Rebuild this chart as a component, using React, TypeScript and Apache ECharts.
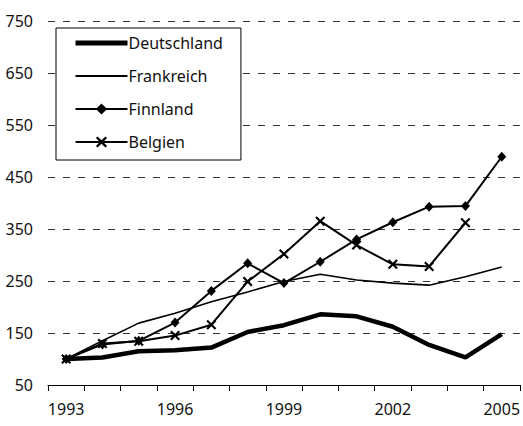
import React, { useEffect, useRef } from "react";
import * as echarts from "echarts";

const years = ["1993","1994","1995","1996","1997","1998","1999","2000","2001","2002","2003","2004","2005"];
const deutschland = [100, 103, 115, 117, 122, 152, 165, 186, 182, 162, 127, 103, 148];
const frankreich = [100, 135, 169, 188, 210, 229, 249, 263, 252, 246, 242, 258, 277];
const finnland = [100, 128, 135, 170, 231, 284, 246, 287, 330, 363, 393, 394, 489];
const belgien: (number | null)[] = [100, 130, 134, 145, 166, 249, 302, 365, 319, 282, 278, 362, null];

const X_SYMBOL = "path://M0,1.5 L1.5,0 L5,3.5 L8.5,0 L10,1.5 L6.5,5 L10,8.5 L8.5,10 L5,6.5 L1.5,10 L0,8.5 L3.5,5 Z";
const FONT = "Noto Sans";

export default function App() {
  const ref = useRef<HTMLDivElement>(null);
  useEffect(() => {
    if (!ref.current) return;
    const chart = echarts.init(ref.current, undefined, { renderer: "svg" });
    chart.setOption({
      animation: false,
      backgroundColor: "#fff",
      grid: { left: 48, right: 2, top: 21, bottom: 41, containLabel: false },
      legend: {
        orient: "vertical",
        left: 56,
        top: 28,
        padding: [7, 18, 10, 17],
        itemWidth: 52,
        itemHeight: 14,
        itemGap: 17,
        backgroundColor: "#fff",
        borderColor: "#000",
        borderWidth: 1,
        borderRadius: 0,
        textStyle: { fontFamily: FONT, fontSize: 16, color: "#111", padding: [0, 0, 0, -4] },
        data: [
          { name: "Deutschland", lineStyle: { width: 5 }, itemStyle: { opacity: 0 } },
          { name: "Frankreich", lineStyle: { width: 2 }, itemStyle: { opacity: 0 } },
          { name: "Finnland", lineStyle: { width: 2 } },
          { name: "Belgien", lineStyle: { width: 2 } },
        ],
        z: 10,
      },
      xAxis: {
        type: "category",
        data: years,
        boundaryGap: true,
        axisLine: { lineStyle: { color: "#000", width: 1 } },
        axisTick: { show: true, interval: 0, length: 6, inside: false, lineStyle: { color: "#000" } },
        axisLabel: { interval: 2, fontFamily: FONT, fontSize: 16, color: "#111", margin: 16 },
        splitLine: { show: false },
      },
      yAxis: {
        type: "value",
        min: 50,
        max: 750,
        interval: 100,
        axisLine: { show: false },
        axisTick: { show: false },
        axisLabel: { fontFamily: FONT, fontSize: 16, color: "#111", margin: 15 },
        splitLine: { show: true, lineStyle: { color: "#333", type: [7, 8], width: 1 } },
      },
      series: [
        {
          name: "Deutschland",
          type: "line",
          data: deutschland,
          symbol: "none",
          lineStyle: { color: "#000", width: 4.5 },
          itemStyle: { color: "#000" },
        },
        {
          name: "Frankreich",
          type: "line",
          data: frankreich,
          symbol: "none",
          lineStyle: { color: "#000", width: 1.6 },
          itemStyle: { color: "#000" },
        },
        {
          name: "Finnland",
          type: "line",
          data: finnland,
          symbol: "diamond",
          symbolSize: [9, 10],
          lineStyle: { color: "#000", width: 2 },
          itemStyle: { color: "#000" },
        },
        {
          name: "Belgien",
          type: "line",
          data: belgien,
          symbol: X_SYMBOL,
          symbolSize: 10,
          lineStyle: { color: "#000", width: 2 },
          itemStyle: { color: "#000" },
        },
      ],
    });
    return () => chart.dispose();
  }, []);
  return <div ref={ref} style={{ position: "fixed", left: 0, top: 0, width: 523, height: 426 }} />;
}
